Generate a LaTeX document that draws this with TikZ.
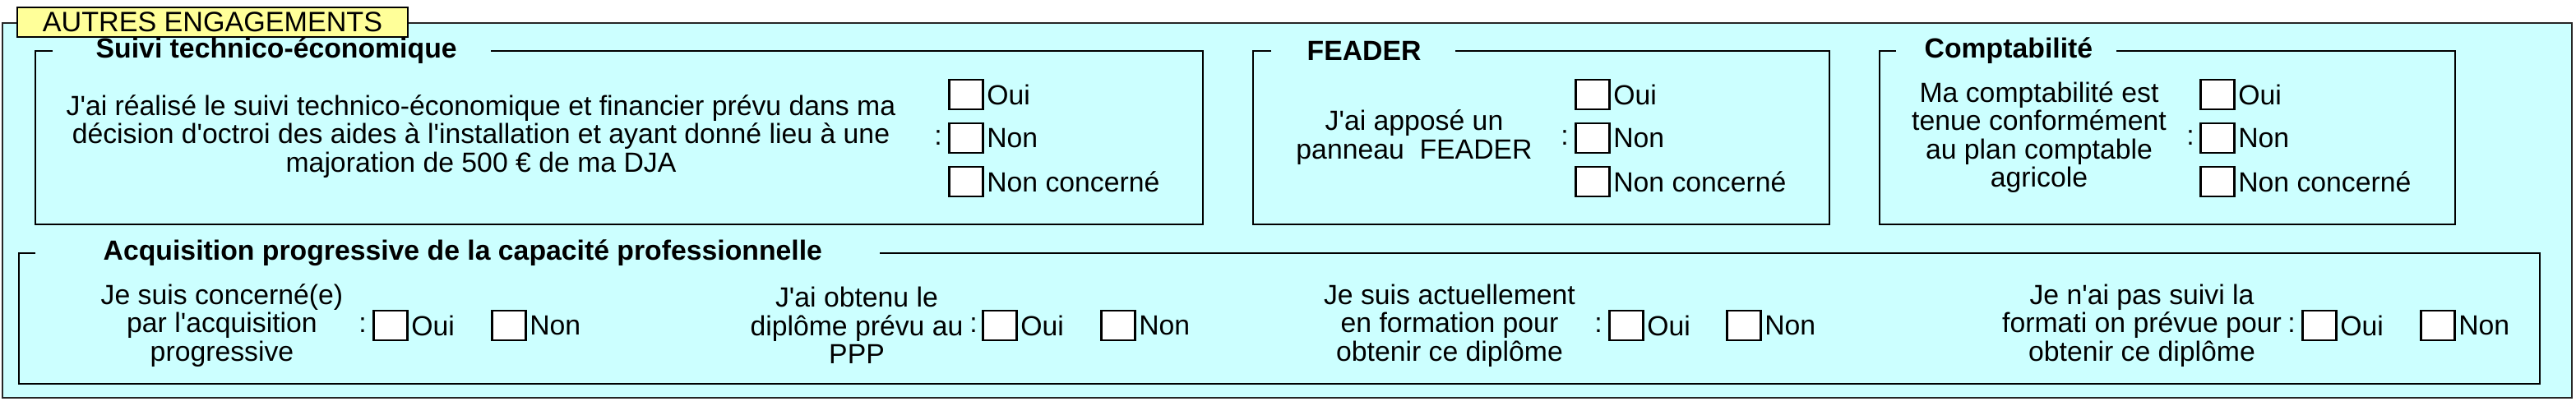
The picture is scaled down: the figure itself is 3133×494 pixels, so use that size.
\documentclass[tikz,border=0pt]{standalone}
\usepackage{fontspec}
\setmainfont{Liberation Sans}
\usepackage{xcolor}
\usetikzlibrary{positioning}
\definecolor{fondbleu}{HTML}{CCFFFF}
\definecolor{fondjaune}{HTML}{FFFF99}
\newcommand{\txtfont}{\fontsize{9.6}{9.8}\selectfont}
\newcommand{\apos}{\textquotesingle}
\tikzstyle{cadre} = [draw=black, line width=0.6pt]
\tikzstyle{etiquette} = [draw=black, fill=fondjaune, line width=0.6pt, minimum width=4.75cm, minimum height=0.36cm, inner sep=0pt, font=\fontsize{9.7}{10}\selectfont]
\tikzstyle{case} = [draw=black, fill=white, line width=0.6pt, minimum width=0.41cm, minimum height=0.36cm, inner sep=0pt]
\tikzstyle{rep} = [inner sep=0pt, font=\txtfont]
\tikzstyle{question} = [align=center, inner sep=0pt, font=\txtfont]
\tikzstyle{titre} = [anchor=west, inner sep=0pt, font=\txtfont\bfseries]

\begin{document}
\begin{tikzpicture}[x=0.01cm, y=-0.01cm]
    \useasboundingbox (0,0) rectangle (3133,494);
    % cadre general
    \draw [cadre, draw=black!85, line width=0.8pt, fill=fondbleu] (3,28) rectangle (3128,484);
    \node [etiquette] (autres) at (258.5,27) {AUTRES ENGAGEMENTS};

    % suivi technico-economique
    \draw [cadre] (64,62) -- (43,62) -- (43,273) -- (1463,273) -- (1463,62) -- (597,62);
    \node [titre] (suivit) at (116,62) {Suivi technico-économique};
    \node [question] (suiviq) at (585,166) {J\apos ai réalisé le suivi technico-économique et financier prévu dans ma\\ décision d\apos octroi des aides à l\apos installation et ayant donné lieu à une\\ majoration de 500 € de ma DJA};
    \node [rep] (suivicol) at (1141,168) {:};
    \node [case] (suivioui) at (1175,115) {};
    \node [case] (suivinon) at (1175,168) {};
    \node [case] (suivinc) at (1175,221) {};
    \node [rep, right=0.03cm of suivioui] (suiviouil) {Oui};
    \node [rep, right=0.03cm of suivinon] (suivinonl) {Non};
    \node [rep, right=0.03cm of suivinc] (suivincl) {Non concerné};

    % feader
    \draw [cadre] (1546,62) -- (1524,62) -- (1524,273) -- (2225,273) -- (2225,62) -- (1770,62);
    \node [titre] (feadert) at (1589,62) {FEADER};
    \node [question] (feaderq) at (1720,167) {J\apos ai apposé un\\ panneau\ \ FEADER};
    \node [rep] (feadercol) at (1903,168) {:};
    \node [case] (feaderoui) at (1937,115) {};
    \node [case] (feadernon) at (1937,168) {};
    \node [case] (feadernc) at (1937,221) {};
    \node [rep, right=0.03cm of feaderoui] (feaderouil) {Oui};
    \node [rep, right=0.03cm of feadernon] (feadernonl) {Non};
    \node [rep, right=0.03cm of feadernc] (feaderncl) {Non concerné};

    % comptabilite
    \draw [cadre] (2306,62) -- (2286,62) -- (2286,273) -- (2986,273) -- (2986,62) -- (2574,62);
    \node [titre] (comptat) at (2340,62) {Comptabilité};
    \node [question] (comptaq) at (2480,167) {Ma comptabilité est\\ tenue conformément\\ au plan comptable\\ agricole};
    \node [rep] (comptacol) at (2664,168) {:};
    \node [case] (comptaoui) at (2697,115) {};
    \node [case] (comptanon) at (2697,168) {};
    \node [case] (comptanc) at (2697,221) {};
    \node [rep, right=0.03cm of comptaoui] (comptaouil) {Oui};
    \node [rep, right=0.03cm of comptanon] (comptanonl) {Non};
    \node [rep, right=0.03cm of comptanc] (comptancl) {Non concerné};

    % acquisition progressive
    \draw [cadre] (43,308) -- (23,308) -- (23,467) -- (3089,467) -- (3089,308) -- (1070,308);
    \node [titre] (acqt) at (125,308) {Acquisition progressive de la capacité professionnelle};
    \node [question] (acqq) at (270,396) {Je suis concerné(e)\\ par l\apos acquisition\\ progressive};
    \node [rep] (acqcol) at (441,396) {:};
    \node [case] (acqoui) at (475,396) {};
    \node [case] (acqnon) at (619,396) {};
    \node [rep, right=0.03cm of acqoui] (acqouil) {Oui};
    \node [rep, right=0.03cm of acqnon] (acqnonl) {Non};

    \node [question] (diplq) at (1042,396) {J\apos ai obtenu le\\ diplôme prévu au\\ PPP};
    \node [rep] (diplcol) at (1184,396) {:};
    \node [case] (diploui) at (1216,396) {};
    \node [case] (diplnon) at (1360,396) {};
    \node [rep, right=0.03cm of diploui] (diplouil) {Oui};
    \node [rep, right=0.03cm of diplnon] (diplnonl) {Non};

    \node [question] (formq) at (1763,396) {Je suis actuellement\\ en formation pour\\ obtenir ce diplôme};
    \node [rep] (formcol) at (1944,396) {:};
    \node [case] (formoui) at (1978,396) {};
    \node [case] (formnon) at (2121,396) {};
    \node [rep, right=0.03cm of formoui] (formouil) {Oui};
    \node [rep, right=0.03cm of formnon] (formnonl) {Non};

    \node [question] (pasq) at (2605,396) {Je n\apos ai pas suivi la\\ formati on prévue pour\\ obtenir ce diplôme};
    \node [rep] (pascol) at (2787,396) {:};
    \node [case] (pasoui) at (2821,396) {};
    \node [case] (pasnon) at (2965,396) {};
    \node [rep, right=0.03cm of pasoui] (pasouil) {Oui};
    \node [rep, right=0.03cm of pasnon] (pasnonl) {Non};
\end{tikzpicture}
\end{document}
